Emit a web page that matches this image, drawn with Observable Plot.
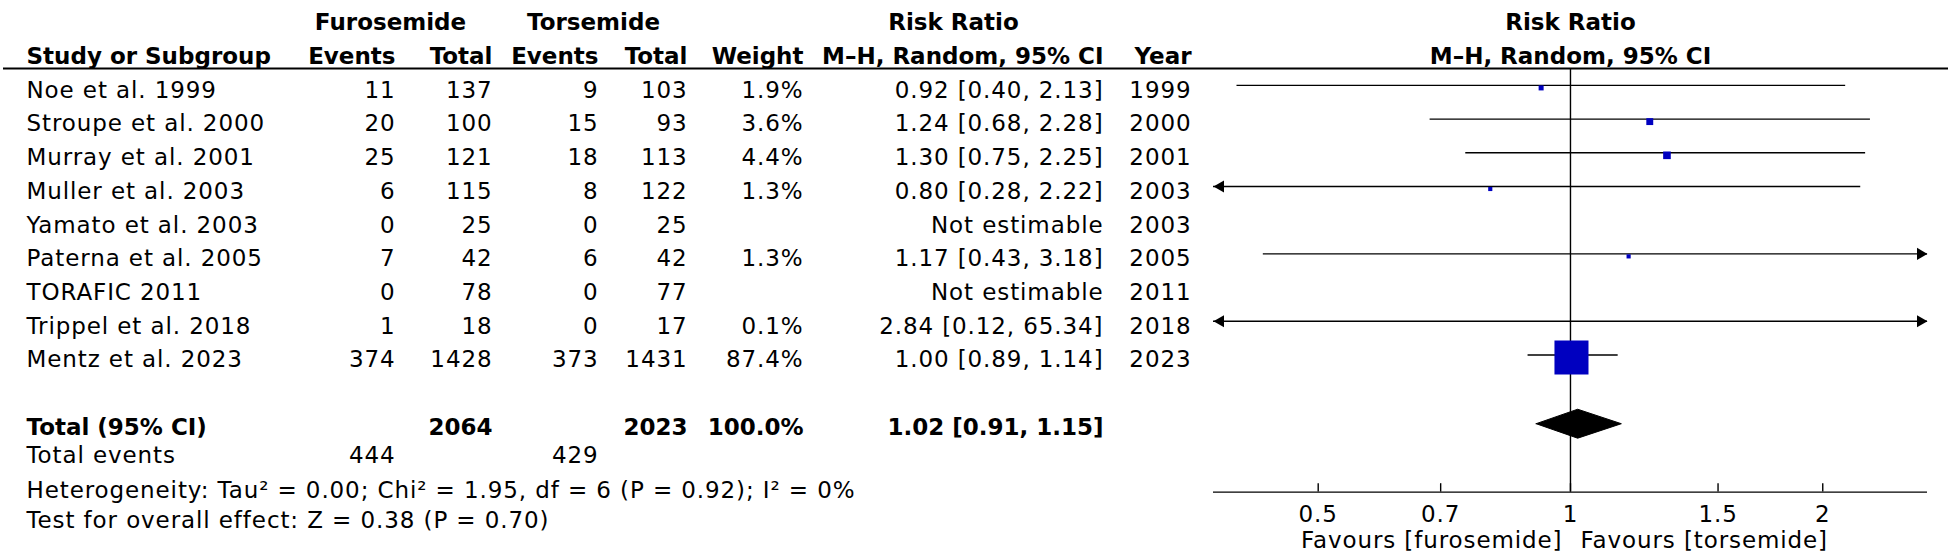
<!DOCTYPE html>
<html><head><meta charset="utf-8">
<script src="https://cdn.jsdelivr.net/npm/d3@7"></script>
<script src="https://cdn.jsdelivr.net/npm/@observablehq/plot@0.6"></script>
<style>
html,body{margin:0;padding:0;background:#fff;}
#chart{display:flex;width:1950px;height:559px;overflow:hidden;}
#chart svg{flex:none;}
</style></head><body><div id="chart"></div>
<script>
// ---------------- data ----------------
const studies = ["Noe et al. 1999","Stroupe et al. 2000","Murray et al. 2001","Muller et al. 2003","Yamato et al. 2003","Paterna et al. 2005","TORAFIC 2011","Trippel et al. 2018","Mentz et al. 2023"];
const furoEvents = [11, 20, 25, 6, 0, 7, 0, 1, 374];
const furoTotal  = [137, 100, 121, 115, 25, 42, 78, 18, 1428];
const torsEvents = [9, 15, 18, 8, 0, 6, 0, 0, 373];
const torsTotal  = [103, 93, 113, 122, 25, 42, 77, 17, 1431];
const weights    = [1.9, 3.6, 4.4, 1.3, null, 1.3, null, 0.1, 87.4];
const riskRatio  = [0.92, 1.24, 1.30, 0.80, null, 1.17, null, 2.84, 1.00];
const ciLower    = [0.40, 0.68, 0.75, 0.28, null, 0.43, null, 0.12, 0.89];
const ciUpper    = [2.13, 2.28, 2.25, 2.22, null, 3.18, null, 65.34, 1.14];
const years      = [1999, 2000, 2001, 2003, 2003, 2005, 2011, 2018, 2023];

const totalFuro = 2064, totalTors = 2023, totalWeight = 100.0;
const totalRR = 1.02, totalLower = 0.91, totalUpper = 1.15;
const totalEventsFuro = 444, totalEventsTors = 429;
const footnotes = [
  "Heterogeneity: Tau\u00B2 = 0.00; Chi\u00B2 = 1.95, df = 6 (P = 0.92); I\u00B2 = 0%",
  "Test for overall effect: Z = 0.38 (P = 0.70)"
];
const axisTicks = [0.5, 0.7, 1, 1.5, 2];
const favours = ["Favours [furosemide]", "Favours [torsemide]"];

// ---------------- layout ----------------
const H = 559, W1 = 1205, W2 = 745;
const FONT = "DejaVu Sans, Verdana, sans-serif";
const FS = 23;
const yScale = {type: "linear", domain: [-2.52, 14.07], range: [0, H], axis: null};
const groupRow = -2, headRow = -1, ruleRow = -0.5;
const totalRow = 10, eventsRow = 10.85, footRows = [11.88, 12.78], axisRow = 12.07;
const colX = {study: 26, fE: 395, fT: 492, tE: 598, tT: 687, weight: 803, ci: 1103, year: 1191,
              fGroup: 390, tGroup: 593, rrGroup: 953};

const fmt2 = d3.format(".2f"), fmt1 = d3.format(".1f");
const rows = studies.map((study, i) => ({
  row: i, study,
  fE: String(furoEvents[i]), fT: String(furoTotal[i]), tE: String(torsEvents[i]), tT: String(torsTotal[i]),
  weight: weights[i], rr: riskRatio[i], lo: ciLower[i], hi: ciUpper[i], year: String(years[i]),
  wText: weights[i] == null ? "" : fmt1(weights[i]) + "%",
  ciText: riskRatio[i] == null ? "Not estimable" : `${fmt2(riskRatio[i])} [${fmt2(ciLower[i])}, ${fmt2(ciUpper[i])}]`
}));

const groupHeaders = [["Furosemide","fGroup"],["Torsemide","tGroup"],["Risk Ratio","rrGroup"]];
const colHeaders = [["Study or Subgroup","study","start"],["Events","fE","end"],["Total","fT","end"],
  ["Events","tE","end"],["Total","tT","end"],["Weight","weight","end"],["M\u2013H, Random, 95% CI","ci","end"],["Year","year","end"]];

const txt = (data, o) => Plot.text(data, {fontSize: FS, dy: 5, fill: "#000", ...o});

// ---------------- left: table ----------------
const colText = (key, textKey, anchor = "end") =>
  txt(rows, {x: () => colX[key], y: "row", text: textKey, textAnchor: anchor});

const totalCells = [
  {label: "Total (95% CI)", col: "study", anchor: "start"},
  {label: String(totalFuro), col: "fT", anchor: "end"},
  {label: String(totalTors), col: "tT", anchor: "end"},
  {label: fmt1(totalWeight) + "%", col: "weight", anchor: "end"},
  {label: `${fmt2(totalRR)} [${fmt2(totalLower)}, ${fmt2(totalUpper)}]`, col: "ci", anchor: "end"}
];
const eventCells = [
  {label: "Total events", col: "study", anchor: "start"},
  {label: String(totalEventsFuro), col: "fE", anchor: "end"},
  {label: String(totalEventsTors), col: "tE", anchor: "end"}
];
const byAnchor = (arr, a, getA) => arr.filter(d => getA(d) === a);

const left = Plot.plot({
  width: W1, height: H, marginLeft: 3, marginRight: 0, marginTop: 0, marginBottom: 0,
  style: {fontFamily: FONT, letterSpacing: "0.9px", background: "#fff", overflow: "visible"},
  x: {type: "linear", domain: [0, W1], range: [0, W1], axis: null},
  y: yScale,
  marks: [
    Plot.ruleY([ruleRow], {stroke: "#000", strokeWidth: 2}),
    txt(groupHeaders, {x: d => colX[d[1]], y: () => groupRow, text: d => d[0], textAnchor: "middle", fontWeight: "bold"}),
    ...["start", "end"].map(a =>
      txt(byAnchor(colHeaders, a, d => d[2]), {x: d => colX[d[1]], y: () => headRow, text: d => d[0], textAnchor: a, fontWeight: "bold"})),
    colText("study", "study", "start"),
    colText("fE", "fE"), colText("fT", "fT"), colText("tE", "tE"), colText("tT", "tT"),
    colText("weight", "wText"), colText("ci", "ciText"), colText("year", "year"),
    ...["start", "end"].map(a =>
      txt(byAnchor(totalCells, a, d => d.anchor), {x: d => colX[d.col], y: () => totalRow, text: "label", textAnchor: a, fontWeight: "bold"})),
    ...["start", "end"].map(a =>
      txt(byAnchor(eventCells, a, d => d.anchor), {x: d => colX[d.col], y: () => eventsRow, text: "label", textAnchor: a})),
    txt(footnotes, {x: () => colX.study, y: (d, i) => footRows[i], text: d => d, textAnchor: "start"})
  ]
});

// ---------------- right: forest plot ----------------
const xDomain = [0.375, 2.667];
const est = rows.filter(d => d.rr != null);
const segs = est.map(d => ({row: d.row, x1: Math.max(d.lo, xDomain[0]), x2: Math.min(d.hi, xDomain[1]),
  leftArrow: d.lo < xDomain[0], rightArrow: d.hi > xDomain[1]}));
const AR = 4.5;
const tipOff = 2 * AR * Math.sqrt(Math.PI / (3 * Math.sqrt(3)));
const dRow = totalRow + 0.04, dHalf = 0.43;
const diamond = [
  {x: totalLower, y: dRow}, {x: totalRR, y: dRow - dHalf},
  {x: totalUpper, y: dRow}, {x: totalRR, y: dRow + dHalf},
  {x: totalLower, y: dRow}
];

const right = Plot.plot({
  width: W2, height: H, marginLeft: 0, marginRight: 2, marginTop: 0, marginBottom: 0,
  style: {fontFamily: FONT, letterSpacing: "0.9px", background: "#fff", overflow: "visible"},
  x: {type: "log", domain: xDomain, range: [8, 722], axis: null},
  y: yScale,
  r: {type: "sqrt", domain: [0, 87.4], range: [0, 19.2]},
  marks: [
    Plot.ruleY([ruleRow], {stroke: "#000", strokeWidth: 2}),
    txt(["Risk Ratio"], {x: () => 1, y: () => groupRow, text: d => d, fontWeight: "bold"}),
    txt(["M\u2013H, Random, 95% CI"], {x: () => 1, y: () => headRow, text: d => d, fontWeight: "bold"}),
    Plot.ruleX([1], {y1: ruleRow, y2: axisRow, stroke: "#000", strokeWidth: 1.4}),
    Plot.ruleY(segs, {y: "row", x1: "x1", x2: "x2", stroke: "#000", strokeWidth: 1.4}),
    Plot.dot(segs.filter(d => d.leftArrow), {x: "x1", y: "row", symbol: "triangle", r: AR, rotate: -90, dx: tipOff, fill: "#000", stroke: null}),
    Plot.dot(segs.filter(d => d.rightArrow), {x: "x2", y: "row", symbol: "triangle", r: AR, rotate: 90, dx: -tipOff, fill: "#000", stroke: null}),
    Plot.dot(est.filter(d => d.rr >= xDomain[0] && d.rr <= xDomain[1]), {x: "rr", y: "row", r: "weight", symbol: "square", fill: "#0000c0", stroke: null, dy: 2.5, dx: 1}),
    Plot.line(diamond, {x: "x", y: "y", fill: "#000", stroke: "#000", strokeWidth: 1}),
    Plot.ruleY([axisRow], {x1: xDomain[0], x2: xDomain[1], stroke: "#000", strokeWidth: 1.4}),
    Plot.ruleX(axisTicks, {x: d => d, y1: axisRow - 0.25, y2: axisRow, stroke: "#000", strokeWidth: 1.4}),
    txt(axisTicks, {x: d => d, y: () => axisRow, text: d => String(d), dy: 23}),
    txt([favours[0]], {x: () => 1, y: () => axisRow, text: d => d, textAnchor: "end", dx: -8, dy: 49}),
    txt([favours[1]], {x: () => 1, y: () => axisRow, text: d => d, textAnchor: "start", dx: 10, dy: 49})
  ]
});

const chart = document.getElementById("chart");
chart.appendChild(left);
chart.appendChild(right);
// bold headings are set without extra tracking
d3.selectAll("#chart g[font-weight=bold]").style("letter-spacing", "0px");
</script></body></html>
